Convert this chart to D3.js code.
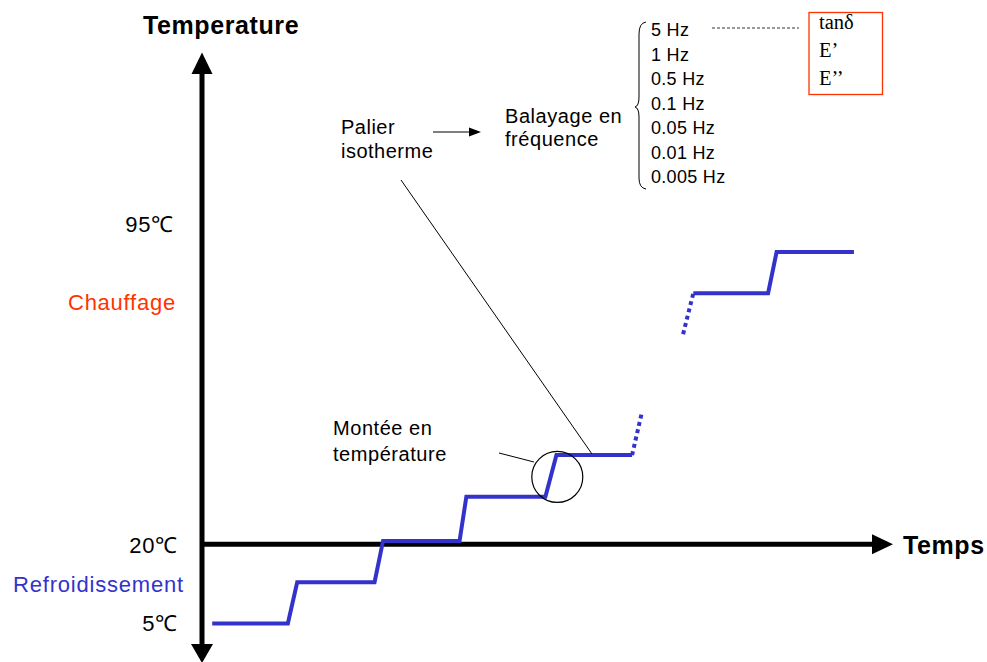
<!DOCTYPE html>
<html><head><meta charset="utf-8">
<script src="https://cdn.jsdelivr.net/npm/d3@7"></script>
<style>
html,body{margin:0;padding:0;background:#fff;}
svg text{font-family:"Liberation Sans",Arial,sans-serif;}
</style></head>
<body>
<svg id="c" width="987" height="662"></svg>
<script>
// ---- data ----
// time (arbitrary units) and temperature level (step index)
const stepTime  = [1.2, 10.1, 11.2, 20.3, 21.3, 30.3, 31.1, 40.4, 41.7, 50.6];
const stepLevel = [0,   0,    1,    1,    2,    2,    3.07, 3.07, 4.08, 4.08];
const dot1Time  = [50.6, 51.7];
const dot1Level = [4.08, 5.07];
const dot2Time  = [56.6, 57.8];
const dot2Level = [7.01, 8.0];
const upTime    = [57.8, 66.6, 67.6, 76.7];
const upLevel   = [8.0,  8.0,  9.0,  9.0];
const tickLabels = ["95℃", "20℃", "5℃"];
const tickLevels = [9.68, 1.9, 0.02];
const freqLabels = ["5 Hz","1 Hz","0.5 Hz","0.1 Hz","0.05 Hz","0.01 Hz","0.005 Hz"];
const propLabels = ["tanδ","E’","E’’"];
const axisLevel = 1.92;   // 20℃ line = time axis
const circleTime = 41.8, circleLevel = 3.55;

// ---- scales ----
const x = d3.scaleLinear().domain([0, 80]).range([202, 882]);
const y = d3.scaleLinear().domain([0, 9]).range([623.5, 252]);

const svg = d3.select("#c");
const blue = "#3333CC";

// ---- axes ----
const axY = x(0), axX = y(axisLevel);
svg.append("line").attr("x1",axY).attr("x2",axY).attr("y1",70).attr("y2",646)
  .attr("stroke","#000").attr("stroke-width",5);
svg.append("path").attr("d",`M${axY},52.5 L${axY-10.5},74 L${axY+10.5},74 Z`).attr("fill","#000");
svg.append("path").attr("d",`M${axY},663 L${axY-11},644 L${axY+11},644 Z`).attr("fill","#000");
svg.append("line").attr("x1",axY).attr("x2",876).attr("y1",axX).attr("y2",axX)
  .attr("stroke","#000").attr("stroke-width",5);
svg.append("path").attr("d",`M893,${axX} L872,${axX-10} L872,${axX+10} Z`).attr("fill","#000");

svg.append("text").attr("x",143).attr("y",34)
  .attr("font-size",25).attr("font-weight","bold").attr("letter-spacing",0.6).text("Temperature");
svg.append("text").attr("x",903).attr("y",554)
  .attr("font-size",25).attr("font-weight","bold").attr("letter-spacing",0.6).text("Temps");

// tick labels
svg.selectAll("text.tick").data(tickLabels).join("text").attr("class","tick")
  .attr("x",(d,i)=>i===0?174:178).attr("y",(d,i)=>y(tickLevels[i])).attr("dy","0.36em")
  .attr("text-anchor","end").attr("font-size",22).attr("letter-spacing",0.8).text(d=>d);

svg.append("text").attr("x",68).attr("y",310)
  .attr("font-size",22).attr("letter-spacing",0.75).attr("fill","#FF3300").text("Chauffage");
svg.append("text").attr("x",13).attr("y",592)
  .attr("font-size",22).attr("letter-spacing",0.8).attr("fill",blue).text("Refroidissement");

// ---- step line ----
const line = d3.line().x(d=>x(d[0])).y(d=>y(d[1]));
const pts = (ts,ls)=>ts.map((t,i)=>[t,ls[i]]);
svg.append("path").attr("d",line(pts(stepTime,stepLevel))).attr("fill","none")
  .attr("stroke",blue).attr("stroke-width",4).attr("stroke-linejoin","miter");
svg.append("path").attr("d",line(pts(upTime,upLevel))).attr("fill","none")
  .attr("stroke",blue).attr("stroke-width",4).attr("stroke-linejoin","miter");
[[dot1Time,dot1Level],[dot2Time,dot2Level]].forEach(([t,l])=>{
  svg.append("path").attr("d",line(pts(t,l))).attr("fill","none")
    .attr("stroke",blue).attr("stroke-width",4).attr("stroke-dasharray","4,3.5");
});

// ---- annotations ----
svg.append("circle").attr("cx",x(circleTime)).attr("cy",y(circleLevel)).attr("r",25.5)
  .attr("fill","none").attr("stroke","#000").attr("stroke-width",1.2);
svg.append("line").attr("x1",499).attr("y1",453).attr("x2",534).attr("y2",462)
  .attr("stroke","#000").attr("stroke-width",1);
svg.append("line").attr("x1",401).attr("y1",180).attr("x2",592).attr("y2",454)
  .attr("stroke","#000").attr("stroke-width",1);

const t1 = svg.append("text").attr("font-size",20).attr("letter-spacing",0.55);
t1.append("tspan").attr("x",333).attr("y",435).text("Montée en");
t1.append("tspan").attr("x",333).attr("y",461).text("température");

const t2 = svg.append("text").attr("font-size",20).attr("letter-spacing",0.5);
t2.append("tspan").attr("x",341).attr("y",134).text("Palier");
t2.append("tspan").attr("x",341).attr("y",158).text("isotherme");

svg.append("line").attr("x1",433).attr("y1",132).attr("x2",472).attr("y2",132)
  .attr("stroke","#000").attr("stroke-width",1);
svg.append("path").attr("d","M481,132 L469,127.5 L469,136.5 Z").attr("fill","#000");

const t3 = svg.append("text").attr("font-size",20).attr("letter-spacing",0.55);
t3.append("tspan").attr("x",505).attr("y",123).text("Balayage en");
t3.append("tspan").attr("x",505).attr("y",146).text("fréquence");

// brace
svg.append("path").attr("d","M646,22 Q639,23 639,34 L639,97 Q639,106 635,107 Q639,108 639,117 L639,178 Q639,188 646,189")
  .attr("fill","none").attr("stroke","#000").attr("stroke-width",1);

svg.selectAll("text.freq").data(freqLabels).join("text").attr("class","freq")
  .attr("x",651).attr("y",(d,i)=>36+i*24.55).attr("font-size",18).attr("letter-spacing",0.3).text(d=>d);

svg.append("line").attr("x1",712).attr("x2",799).attr("y1",28).attr("y2",28)
  .attr("stroke","#333").attr("stroke-width",1).attr("stroke-dasharray","3,2");

svg.append("rect").attr("x",809).attr("y",12.5).attr("width",73.5).attr("height",82)
  .attr("fill","none").attr("stroke","#FF3300").attr("stroke-width",1.3);
svg.selectAll("text.prop").data(propLabels).join("text").attr("class","prop")
  .attr("x",819).attr("y",(d,i)=>29+i*28).attr("font-size",20.5)
  .style("font-family","'Liberation Serif','Times New Roman',serif").text(d=>d);
</script>
</body></html>
